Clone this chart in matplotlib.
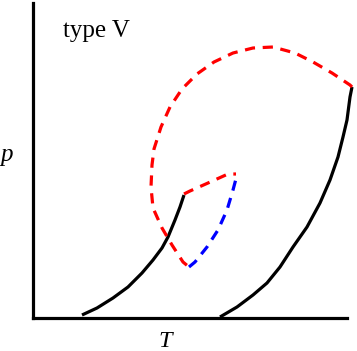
import matplotlib
matplotlib.use("Agg")
import matplotlib.pyplot as plt

# Data (T, p)
black1_T = [49, 64, 80, 95, 109, 120, 129, 135, 142, 147, 151]
black1_p = [3, 10, 20, 31, 45, 58, 70, 81, 98, 111, 123]

black2_T = [187, 204, 220, 234, 247, 260, 274, 287, 297, 305, 310, 314, 317, 319]
black2_p = [1, 11, 23, 35, 51, 71, 91, 115, 138, 161, 181, 198, 221, 231]

red_loop_T = [319, 317, 299, 280, 262, 240, 220, 200, 181, 164, 149, 137, 128, 121,
              119, 118, 120, 129, 139, 150, 156]
red_loop_p = [231, 233, 245, 256, 265, 271, 270, 265, 256, 244, 229, 211, 191, 169,
              153, 131, 110, 90, 73, 56, 51]

red_small_T = [151, 157, 175, 195, 203]
red_small_p = [124, 127, 135, 144, 144]

blue_T = [156, 162, 174, 185, 194, 200, 204]
blue_p = [51, 56, 71, 88, 108, 128, 143]

W, H = 357, 351
fig = plt.figure(figsize=(W / 100, H / 100), dpi=100)
ax = fig.add_axes([33 / W, 33 / H, 314 / W, 315 / H])
ax.set_xlim(0, 314)
ax.set_ylim(0, 315)
for s in ["top", "right"]:
    ax.spines[s].set_visible(False)
for s in ["left", "bottom"]:
    ax.spines[s].set_linewidth(2.3)
ax.set_xticks([])
ax.set_yticks([])

lw = 2.3
dash = (0, (3.2, 2.4))
ax.plot(black1_T, black1_p, color="black", lw=lw, clip_on=False, solid_capstyle="butt",
        solid_joinstyle="round")
ax.plot(black2_T, black2_p, color="black", lw=lw, clip_on=False, solid_capstyle="butt",
        solid_joinstyle="round")
ax.plot(red_loop_T, red_loop_p, color="#ff0000", lw=lw, ls=dash, clip_on=False)
ax.plot(red_small_T, red_small_p, color="#ff0000", lw=lw, ls=dash, clip_on=False)
ax.plot(blue_T, blue_p, color="#0000ff", lw=lw, ls=dash, clip_on=False)

fig.text(63 / W, 1 - 37 / H, "type V", family="Liberation Serif", fontsize=18,
         va="baseline", ha="left")
fig.text(0 / W, 1 - 161 / H, "p", family="Liberation Serif", style="italic",
         fontsize=18, va="baseline", ha="left")
fig.text(158 / W, 1 - 347 / H, "T", family="Liberation Serif", style="italic",
         fontsize=17.5, va="baseline", ha="left")

fig.savefig("out.png", dpi=100)
